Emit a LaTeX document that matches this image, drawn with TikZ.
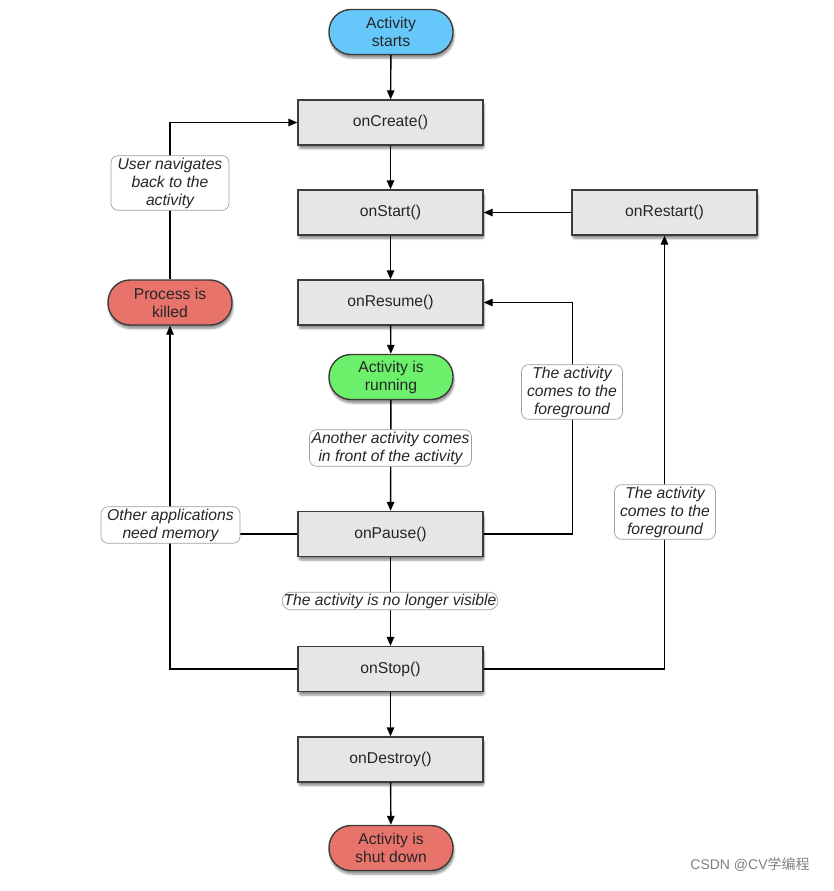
\documentclass[tikz,border=0pt]{standalone}
\usepackage{fontspec}
\setmainfont{Liberation Sans}
\newfontfamily\cjk{Noto Sans CJK SC}
\usetikzlibrary{shadows,shadows.blur,arrows.meta}
\definecolor{boxfill}{HTML}{E6E6E6}
\definecolor{boxline}{HTML}{3C3C3C}
\definecolor{pillblue}{HTML}{66C8FA}
\definecolor{pillgreen}{HTML}{6CF06C}
\definecolor{pillred}{HTML}{E8736B}
\definecolor{lblline}{HTML}{A0A0A0}
\definecolor{txt}{HTML}{262626}
\begin{document}
\begin{tikzpicture}[x=1pt,y=-1pt,
  font=\fontsize{15.7}{18}\selectfont,
  line width=1.4pt,
  >={Triangle[length=9pt,width=7.5pt]},
  shad/.style={blur shadow={shadow blur steps=6, shadow xshift=1pt, shadow yshift=-3.5pt, shadow opacity=45, shadow blur extra rounding=2pt}},
  box/.style={draw=boxline, fill=boxfill, minimum width=185pt, minimum height=45pt, inner sep=0pt, text=txt, shad},
  pill/.style={draw=boxline, rounded corners=22pt, minimum width=124pt, minimum height=45pt, inner sep=0pt, align=center, text=txt, shad},
  lbl/.style={draw=lblline, fill=white, rounded corners=7pt, line width=0.7pt, font=\fontsize{15.7}{18}\selectfont\itshape, align=center, inner sep=2pt, text=txt},
]
\useasboundingbox (0,0) rectangle (833,891);

% main nodes
\node[pill, fill=pillblue] (start) at (391,32) {Activity\\starts};
\node[box] (create) at (390.5,122.5) {onCreate()};
\node[box] (startm) at (390.5,212.5) {onStart()};
\node[box] (restart) at (664.5,212.5) {onRestart()};
\node[box] (resume) at (390.5,302.5) {onResume()};
\node[pill, fill=pillgreen] (running) at (391,377) {Activity is\\running};
\node[box] (pause) at (390.5,534) {onPause()};
\node[box] (stop) at (390.5,669) {onStop()};
\node[box] (destroy) at (390.5,759.5) {onDestroy()};
\node[pill, fill=pillred] (shut) at (391,848) {Activity is\\shut down};
\node[pill, fill=pillred] (killed) at (170,302.5) {Process is\\killed};

% connectors
\draw[->] (start) -- (create);
\draw[->] (create) -- (startm);
\draw[->] (startm) -- (resume);
\draw[->] (resume) -- (running);
\draw[->] (running) -- (pause);
\draw[->] (pause) -- (stop);
\draw[->] (stop) -- (destroy);
\draw[->] (destroy) -- (shut);
\draw[->] (restart) -- (startm);
\draw[->] (pause.east) -- ++(89,0) coordinate (pr) |- (resume.east);
\draw[->] (stop.east) -| (restart.south);
\draw[->] (stop.west) -| (killed.south);
\draw[->] (killed.north) |- (create.west);
\draw (pause.west) -- (pause.west -| killed.south);

% labels
\node[lbl, minimum width=118pt] (lnav) at (170,183) {User navigates\\back to the\\activity};
\node[lbl, minimum width=139pt] (lmem) at (170.5,525) {Other applications\\need memory};
\node[lbl] (lfront) at (390.5,448) {Another activity comes\\in front of the activity};
\node[lbl, rounded corners=9pt, inner sep=1.5pt] (lvis) at (390,601) {The activity is no longer visible};
\node[lbl, minimum width=101pt] (lfg1) at (572,392) {The activity\\comes to the\\foreground};
\node[lbl, minimum width=101pt] (lfg2) at (665,512) {The activity\\comes to the\\foreground};

% watermark
\node[text=black!50, font=\fontsize{14}{16}\selectfont, inner sep=0pt] (wm) at (750,865) {CSDN @CV{\cjk 学编程}};
\end{tikzpicture}
\end{document}
